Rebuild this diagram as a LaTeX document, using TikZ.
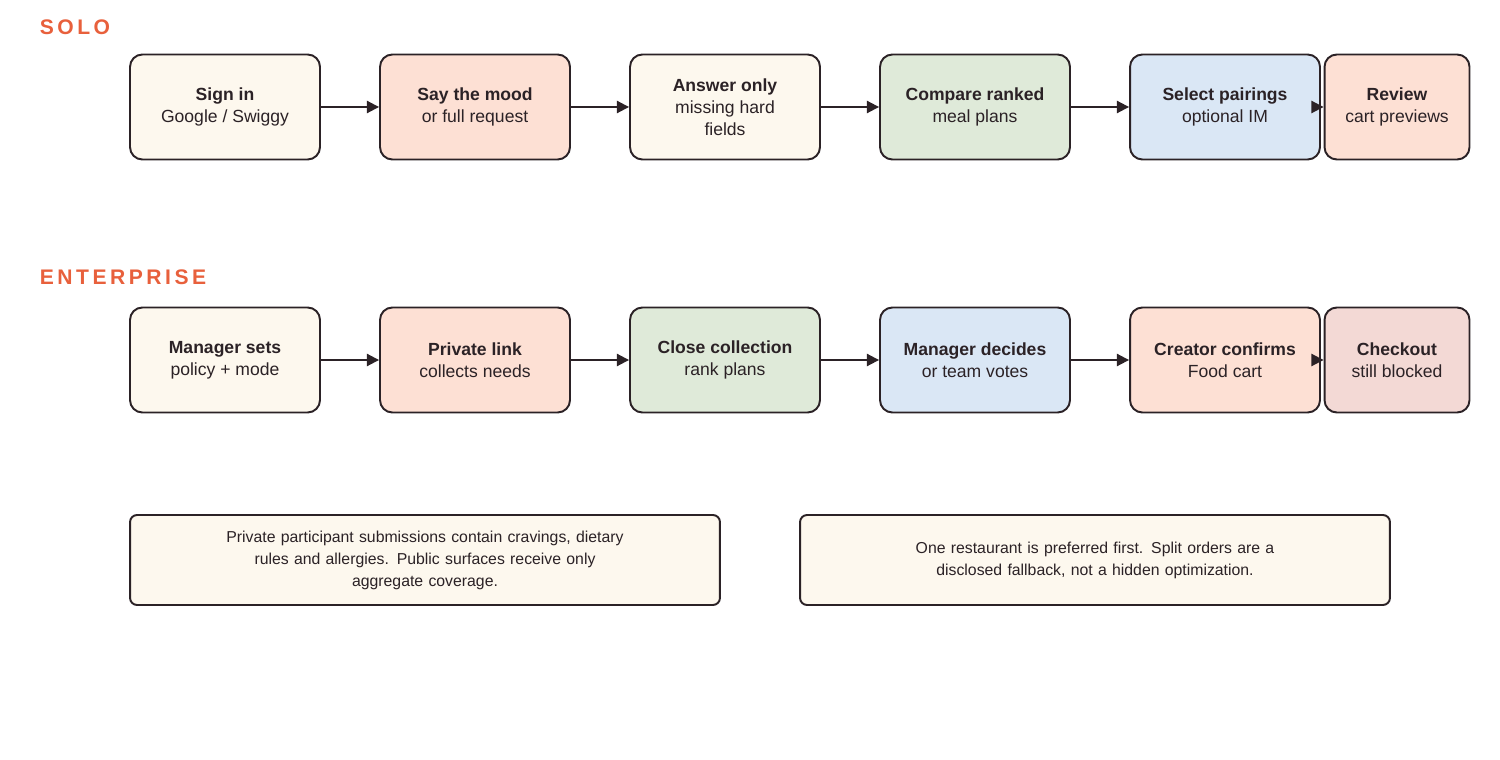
\documentclass[tikz,border=0pt]{standalone}
\usepackage{fontspec}
\setmainfont{Liberation Sans}
\usetikzlibrary{arrows.meta}
\definecolor{ink}{HTML}{2B2226}
\definecolor{hd}{HTML}{E8603C}
\definecolor{cream}{HTML}{FDF8EE}
\definecolor{salmon}{HTML}{FDE0D4}
\definecolor{sage}{HTML}{DFEAD9}
\definecolor{sky}{HTML}{DAE7F5}
\definecolor{rose}{HTML}{F3D9D5}

\begin{document}
\begin{tikzpicture}[
            x = 0.02cm, y = -0.02cm,
            > = {Triangle[length=7pt, width=7pt]}, % arrow head style
            line width = 1.1pt,
            draw = ink,
            font=\fontsize{10pt}{12.5pt}\selectfont,
            align=center,
            text = ink
  ]

        \tikzset{
            stage/.style = {draw = ink, rounded corners = 7pt, line width = 1.1pt,
                minimum width = 3.8cm, minimum height = 2.1cm},
            narrow/.style = {stage, minimum width = 2.9cm},
            note/.style = {draw = ink, fill = cream, rounded corners = 4pt, line width = 1.1pt,
                minimum width = 11.8cm, minimum height = 1.8cm, text width = 9.5cm,
                font = \fontsize{9pt}{12.5pt}\selectfont},
            title/.style = {text = hd, font = \fontsize{12pt}{14pt}\selectfont\bfseries, anchor = west}
        }

        \useasboundingbox (0, 0) rectangle (1500, 760);

        \node[title] (solo) at (33, 27) {S\,O\,L\,O};
        \node[title] (ent) at (33, 277) {E\,N\,T\,E\,R\,P\,R\,I\,S\,E};

        % solo row
        \node[stage, fill = cream] (sign) at (225, 107) {\textbf{Sign in}\\Google / Swiggy};
        \node[stage, fill = salmon] (mood) at (475, 107) {\textbf{Say the mood}\\or full request};
        \node[stage, fill = cream] (answer) at (725, 107) {\textbf{Answer only}\\missing hard\\fields};
        \node[stage, fill = sage] (compare) at (975, 107) {\textbf{Compare ranked}\\meal plans};
        \node[stage, fill = sky] (select) at (1225, 107) {\textbf{Select pairings}\\optional IM};
        \node[narrow, fill = salmon] (review) at (1397, 107) {\textbf{Review}\\cart previews};

        % enterprise row
        \node[stage, fill = cream] (manager) at (225, 360) {\textbf{Manager sets}\\policy + mode};
        \node[stage, fill = salmon] (link) at (475, 360) {\textbf{Private link}\\collects needs};
        \node[stage, fill = sage] (close) at (725, 360) {\textbf{Close collection}\\rank plans};
        \node[stage, fill = sky] (decide) at (975, 360) {\textbf{Manager decides}\\or team votes};
        \node[stage, fill = salmon] (confirm) at (1225, 360) {\textbf{Creator confirms}\\Food cart};
        \node[narrow, fill = rose] (checkout) at (1397, 360) {\textbf{Checkout}\\still blocked};

        \path[->] (sign) edge (mood);
        \path[->] (mood) edge (answer);
        \path[->] (answer) edge (compare);
        \path[->] (compare) edge (select);
        \path[->] (select) edge (review);
        \path[->] (manager) edge (link);
        \path[->] (link) edge (close);
        \path[->] (close) edge (decide);
        \path[->] (decide) edge (confirm);
        \path[->] (confirm) edge (checkout);

        % notes
        \node[note] (privacy) at (425, 560) {Private participant submissions contain cravings, dietary\\rules and allergies. Public surfaces receive only\\aggregate coverage.};
        \node[note] (split) at (1095, 560) {One restaurant is preferred first. Split orders are a\\disclosed fallback, not a hidden optimization.};
    \end{tikzpicture}
\end{document}
